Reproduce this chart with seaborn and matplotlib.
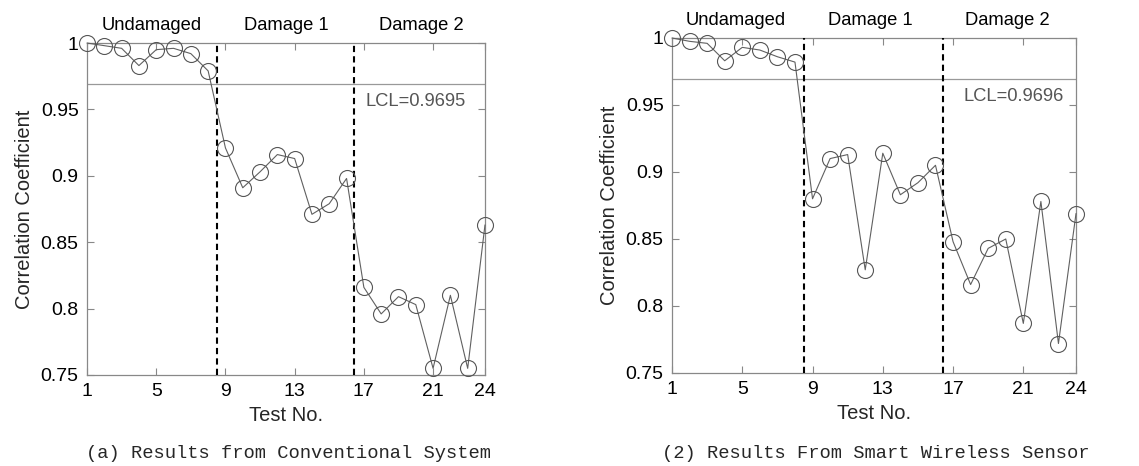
import matplotlib
matplotlib.use("Agg")
import matplotlib.pyplot as plt
import matplotlib.transforms as mtransforms
import seaborn as sns
import pandas as pd

test_no = list(range(1, 25))
conventional = [1.000, 0.998, 0.996, 0.983, 0.995, 0.996, 0.992, 0.979,
                0.921, 0.891, 0.903, 0.916, 0.913, 0.871, 0.879, 0.898,
                0.816, 0.796, 0.809, 0.803, 0.755, 0.810, 0.755, 0.863]
wireless = [1.000, 0.9975, 0.996, 0.983, 0.993, 0.991, 0.986, 0.982,
            0.880, 0.910, 0.913, 0.827, 0.914, 0.883, 0.892, 0.905,
            0.848, 0.816, 0.843, 0.850, 0.787, 0.878, 0.772, 0.869]
lcl_values = [0.9695, 0.9696]
boundaries = [8.5, 16.45]
region_labels = ["Undamaged", "Damage 1", "Damage 2"]
captions = ["(a) Results from Conventional System",
            "(2) Results From Smart Wireless Sensor"]
xticks = [1, 5, 9, 13, 17, 21, 24]
yticks = [0.75, 0.8, 0.85, 0.9, 0.95, 1.0]
ytick_labels = ["0.75", "0.8", "0.85", "0.9", "0.95", "1"]

sns.set_style("ticks")
plt.rcParams['font.family'] = ['Liberation Sans', 'DejaVu Sans']

fig = plt.figure(figsize=(11.39, 4.66), dpi=100)
ax1 = fig.add_axes([0.0764, 0.1953, 0.3494, 0.7124])
ax2 = fig.add_axes([0.5900, 0.1996, 0.3547, 0.7189])

series = [conventional, wireless]
label_x = [[4.76, 12.5, 20.3], [4.64, 12.3, 20.1]]
lcl_text_x = [17.1, 17.6]

for i, ax in enumerate([ax1, ax2]):
    df = pd.DataFrame({"Test No.": test_no, "r": series[i]})
    sns.lineplot(data=df, x="Test No.", y="r", ax=ax, color="#606060",
                 linewidth=0.8, marker="o", markersize=11.5,
                 markerfacecolor="none", markeredgecolor="#555555",
                 markeredgewidth=0.8, clip_on=False, zorder=4)
    ax.axhline(lcl_values[i], color="#999999", linewidth=0.9, zorder=1)
    for b in boundaries:
        ax.axvline(b, color="black", linestyle=(0, (3, 2)), linewidth=1.5, zorder=3)
    ax.set_xlim(1, 24)
    ax.set_ylim(0.75, 1.0)
    ax.set_xticks(xticks)
    ax.set_xticklabels([str(t) for t in xticks])
    ax.set_yticks(yticks)
    ax.set_yticklabels(ytick_labels)
    ax.tick_params(direction="in", top=True, right=True, length=5,
                   color="#888888", labelsize=14, labelcolor="black", pad=6)
    for s in ax.spines.values():
        s.set_color("#888888")
        s.set_linewidth(0.9)
    ax.set_xlabel("Test No.", fontsize=14.5, labelpad=4)
    ax.set_ylabel("Correlation Coefficient", fontsize=14.5, labelpad=5)
    trans = mtransforms.blended_transform_factory(ax.transData, ax.transAxes)
    for lx, lab in zip(label_x[i], region_labels):
        ax.text(lx, 1.052, lab, transform=trans, ha="center", va="center",
                fontsize=13.2, color="black")
    ax.text(lcl_text_x[i], 0.956, f"LCL={lcl_values[i]}", ha="left", va="center",
            fontsize=13.2, color="#555555")

fig.text(0.2530, 1 - 453 / 466, captions[0], ha="center", va="center",
         fontsize=13.5, family=["Liberation Mono", "DejaVu Sans Mono"])
fig.text(0.7690, 1 - 453 / 466, captions[1], ha="center", va="center",
         fontsize=13.5, family=["Liberation Mono", "DejaVu Sans Mono"])

fig.savefig("out.png", dpi=100)
